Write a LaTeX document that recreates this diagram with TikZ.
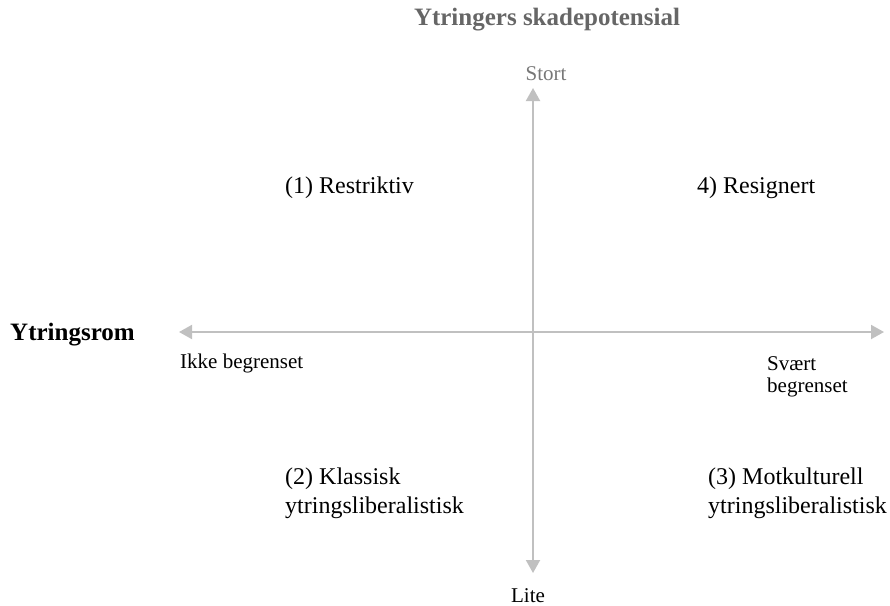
\documentclass[tikz,border=0pt]{standalone}
\usepackage{fontspec}
\setmainfont{Liberation Serif}
\usetikzlibrary{arrows.meta}
\definecolor{axisgray}{HTML}{C0C0C0}
\definecolor{titlegray}{HTML}{666666}
\definecolor{labelgray}{HTML}{777777}
\begin{document}
\begin{tikzpicture}[x=1pt,y=-1pt,
  axisline/.style={draw=axisgray, line width=2pt,
    {Triangle[width=14pt,length=13pt]}-{Triangle[width=14pt,length=13pt]}},
  big/.style={font=\fontsize{24}{29}\selectfont, inner sep=0pt, anchor=base west, align=left},
  small/.style={font=\fontsize{21}{22}\selectfont, inner sep=0pt, anchor=base west, align=left},
  heading/.style={font=\bfseries\fontsize{25}{29}\selectfont, inner sep=0pt}
  ]
\useasboundingbox (0,0) rectangle (890,605);
% axes
\coordinate (vtop) at (533,88);
\coordinate (vbot) at (533,573);
\coordinate (hleft) at (179,332);
\coordinate (hright) at (884,332);
\draw[axisline] (vbot) -- (vtop);
\draw[axisline] (hleft) -- (hright);
% headings
\node[heading, text=titlegray, anchor=base] (title) at (547,25) {Ytringers skadepotensial};
\node[heading, anchor=base west] (xname) at (10,340) {Ytringsrom};
% axis end labels
\node[small, anchor=base, text=labelgray] (stort) at (546,80) {Stort};
\node[small, anchor=base] (lite) at (528,602) {Lite};
\node[small] (ikke) at (180,368) {Ikke begrenset};
\node[small] (svaert) at (767,392) {Svært\\begrenset};
% quadrants
\node[big] (q1) at (285,193) {(1) Restriktiv};
\node[big] (q4) at (697,193) {4) Resignert};
\node[big] (q2) at (285,513) {(2) Klassisk\\ytringsliberalistisk};
\node[big] (q3) at (708,513) {(3) Motkulturell\\ytringsliberalistisk};
\end{tikzpicture}
\end{document}
